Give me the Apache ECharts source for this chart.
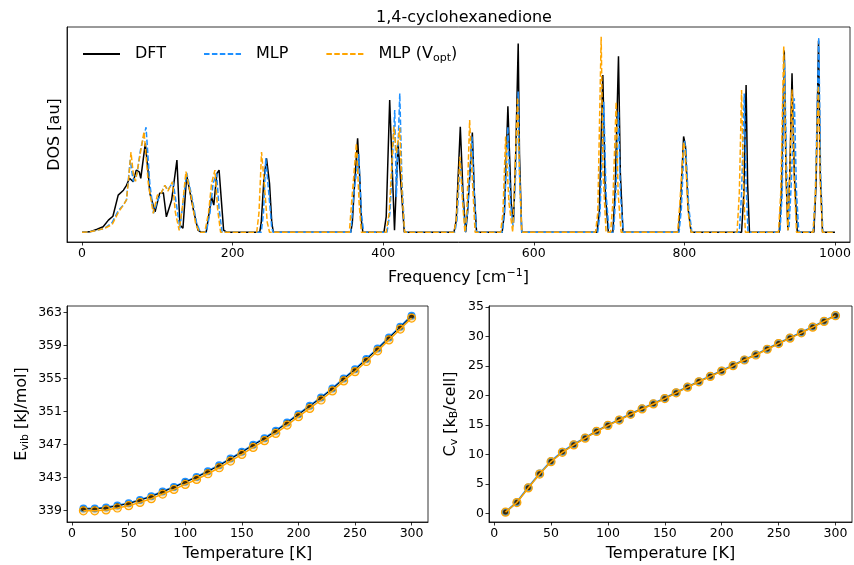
<!DOCTYPE html>
<html>
<head>
<meta charset="utf-8">
<script src="https://cdn.jsdelivr.net/npm/echarts@6/dist/echarts.min.js"></script>
<style>html,body{margin:0;padding:0;background:#fff}#c{width:854px;height:565px}</style>
</head>
<body>
<div id="c"></div>
<script>
// ---------- DOS data: [frequency (cm^-1), DOS (au)] ----------
const dosDFT = [[0,0],[10,0.002],[20,0.015],[28,0.028],[35,0.062],[41,0.082],[48,0.19],[55,0.215],[59,0.24],[63,0.276],[68,0.258],[72,0.318],[76,0.309],[78,0.276],[84,0.455],[88,0.30],[90,0.199],[97,0.105],[103,0.199],[108,0.202],[112,0.079],[119,0.165],[126,0.369],[130,0.037],[134,0.02],[139,0.291],[148,0.113],[154,0.011],[158,0],[165,0.003],[170,0.13],[172,0.18],[175,0.139],[179,0.30],[182,0.318],[188,0.011],[192,0],
[236,0],[238,0.05],[241.5,0.27],[245,0.378],[249,0.25],[252,0.05],[254,0],
[357,0],[359,0.05],[362,0.25],[366,0.48],[369,0.27],[371,0.06],[373,0],
[401,0],[404,0.08],[408.6,0.676],[415,0.01],[419.7,0.455],[421.5,0.46],[428,0],
[494,0],[497,0.06],[502.4,0.54],[506,0.2],[509.5,0],[512,0.1],[518.4,0.51],[521,0.2],[524,0],
[558,0],[561,0.1],[565.6,0.645],[570,0.15],[573,0.047],[576,0.4],[579.3,0.966],[581,0.4],[584,0],
[684,0],[687,0.1],[691.7,0.804],[695,0.2],[699,0],[705,0],[708,0.2],[712.5,0.9],[715,0.3],[718.5,0],
[792,0],[795,0.15],[799,0.49],[801.5,0.44],[805,0.12],[809,0],
[876,0],[879,0.2],[882,0.753],[884,0.25],[886.5,0],
[926,0],[929,0.2],[932.7,0.93],[935,0.3],[937.5,0.01],[940,0.3],[943,0.813],[946,0.3],[950,0],
[972,0],[975,0.25],[978.2,0.98],[980.5,0.3],[983.5,0],[1000,0]];

const dosMLP = [[0,0],[10,0.002],[20,0.01],[30,0.02],[40,0.05],[48,0.11],[55,0.14],[59,0.165],[64,0.37],[68,0.26],[73,0.3],[78,0.43],[85,0.537],[90,0.25],[95,0.097],[100,0.16],[104,0.19],[110,0.24],[114,0.216],[121,0.258],[125,0.15],[130,0.02],[134,0.15],[139,0.304],[146,0.18],[152,0.05],[157,0],
[165,0],[170,0.1],[174,0.25],[178.7,0.30],[182,0.12],[186,0],
[238,0],[241,0.1],[244,0.378],[248,0.2],[252,0.02],[254,0],
[357,0],[361,0.2],[367.5,0.40],[371,0.1],[374,0],
[405,0],[409,0.1],[415.3,0.625],[417.5,0.18],[422,0.71],[425,0.25],[428.5,0],
[495,0],[498,0.06],[502.4,0.37],[506,0.15],[509,0],[512,0.1],[518,0.49],[521,0.2],[524,0],
[558,0],[561,0.1],[565.6,0.54],[569,0.15],[572.5,0.03],[576,0.3],[579.3,0.72],[581,0.3],[584,0],
[685,0],[688,0.1],[693,0.667],[696,0.2],[700,0],[706,0],[709,0.2],[712.5,0.616],[715,0.2],[719,0],
[793,0],[796,0.12],[800,0.47],[802,0.42],[806,0.12],[810,0],
[873,0],[876,0.2],[879.5,0.71],[882,0.25],[884.5,0],
[927,0],[930,0.2],[933,0.88],[936,0.3],[939,0.02],[942,0.25],[946,0.685],[949,0.2],[952,0],
[971,0],[974,0.2],[978.5,0.997],[981,0.3],[984,0],[1000,0]];

const dosVopt = [[0,0],[10,0.002],[20,0.01],[30,0.02],[40,0.04],[48,0.1],[55,0.14],[59,0.165],[62,0.28],[65,0.41],[68,0.3],[71,0.26],[75,0.35],[82.3,0.514],[88,0.25],[94.6,0.097],[100,0.19],[105,0.2],[110,0.24],[114,0.21],[120,0.258],[124,0.1],[129,0.01],[133,0.12],[138,0.31],[145,0.18],[151,0.04],[156,0],
[163,0],[168,0.1],[172,0.25],[176.5,0.318],[180,0.12],[184,0],
[232,0],[235,0.1],[238.4,0.41],[242,0.25],[246,0.05],[249,0],
[355,0],[358,0.15],[364.4,0.455],[368,0.15],[371,0],
[404,0],[408,0.1],[414,0.54],[417.5,0.405],[422,0.533],[425,0.2],[428.5,0],
[494,0],[497,0.06],[502,0.386],[505.5,0.15],[508.5,0],[511,0.1],[514.8,0.574],[518,0.3],[522,0],
[556,0],[559,0.1],[562.6,0.49],[567,0.15],[572,0],[575,0.3],[578.5,0.69],[581,0.3],[584,0],
[682,0],[685,0.1],[689.5,1.0],[692,0.3],[696,0],[702,0],[705,0.15],[709.4,0.667],[712,0.2],[716,0],
[791,0],[794,0.15],[799,0.46],[801,0.42],[805,0.1],[809,0],
[870,0],[873,0.2],[876,0.727],[878.5,0.25],[881,0],
[925,0],[928,0.2],[932,0.952],[935,0.3],[937.5,0.01],[940,0.3],[943,0.73],[946,0.25],[949,0],
[971,0],[974,0.2],[978,0.75],[980.5,0.25],[983.5,0],[1000,0]];

// ---------- Thermodynamics ----------
const temperatures = [10,20,30,40,50,60,70,80,90,100,110,120,130,140,150,160,170,180,190,200,210,220,230,240,250,260,270,280,290,300];
const evibDFT  = [339.20,339.20,339.33,339.57,339.85,340.25,340.70,341.27,341.83,342.44,343.04,343.73,344.46,345.27,346.08,346.93,347.74,348.63,349.64,350.65,351.66,352.68,353.77,354.98,356.10,357.33,358.62,359.95,361.25,362.58];
const evibMLP  = [339.23,339.23,339.36,339.60,339.88,340.28,340.73,341.30,341.86,342.47,343.07,343.76,344.49,345.30,346.11,346.96,347.77,348.66,349.67,350.68,351.69,352.71,353.80,355.01,356.13,357.36,358.65,359.98,361.28,362.61];
const evibVopt = [338.95,338.95,339.06,339.30,339.58,339.98,340.43,340.99,341.55,342.16,342.76,343.45,344.18,344.99,345.80,346.65,347.46,348.35,349.36,350.37,351.38,352.40,353.50,354.71,355.84,357.07,358.36,359.69,361.00,362.33];
const cvDFT  = [0.23,1.88,4.38,6.72,8.82,10.41,11.67,12.80,13.94,14.97,15.88,16.85,17.76,18.61,19.52,20.49,21.46,22.37,23.28,24.19,25.10,26.07,26.92,27.89,28.85,29.77,30.68,31.64,32.61,33.58];
const cvMLP  = [0.25,1.92,4.42,6.76,8.86,10.45,11.71,12.84,13.98,15.00,15.91,16.88,17.79,18.64,19.55,20.52,21.49,22.40,23.31,24.22,25.13,26.10,26.95,27.92,28.88,29.80,30.71,31.67,32.64,33.61];
const cvVopt = [0.22,1.85,4.33,6.68,8.78,10.37,11.63,12.77,13.91,14.94,15.85,16.82,17.73,18.58,19.49,20.46,21.43,22.34,23.25,24.16,25.07,26.04,26.89,27.86,28.82,29.74,30.65,31.61,32.58,33.55];

const freqTicks = [0,200,400,600,800,1000];
const tempTicks = [0,50,100,150,200,250,300];
const evibTicks = [339,343,347,351,355,359,363];
const cvTicks = [0,5,10,15,20,25,30,35];

const FONT = 'DejaVu Sans';
const BLUE = '#1E90FF', ORANGE = '#FFA500';
const dash = [5.5, 2.4];

function pairs(xs, ys){ return xs.map((x,i)=>[x, ys[i]]); }

function valAxis(gridIndex, min, max, ticks, extra){
  return Object.assign({
    type:'value', gridIndex, min, max,
    axisLine:{show:true, onZero:false, lineStyle:{color:'#000', width:0.8}},
    axisTick:{show:true, length:3.5, lineStyle:{color:'#000', width:0.8}, customValues: ticks},
    axisLabel:{show:true, color:'#000', fontFamily:FONT, fontSize:12.5, margin:5, customValues: ticks,
      formatter: v => String(v)},
    splitLine:{show:false},
    nameTextStyle:{color:'#000', fontFamily:FONT, fontSize:16}
  }, extra||{});
}

const chart = echarts.init(document.getElementById('c'), null, {renderer:'canvas'});
const option = {
  animation:false,
  backgroundColor:'#fff',
  title:{text:'1,4-cyclohexanedione', left:459, top:5, textAlign:'center',
    textStyle:{fontFamily:FONT, fontSize:16, fontWeight:'normal', color:'#000'}},
  legend:{
    left:77, top:41, itemWidth:37, itemHeight:12, itemGap:37,
    data:['DFT','MLP','MLP (Vopt)'],
    itemStyle:{opacity:0},
    textStyle:{fontFamily:FONT, fontSize:16, color:'#000', padding:[0,0,0,10],
      rich:{sub:{fontFamily:FONT, fontSize:11, color:'#000', padding:[8,0,0,0]}}},
    formatter: n => n==='MLP (Vopt)' ? 'MLP (V{sub|opt})' : n
  },
  grid:[
    {left:67, right:4, top:27, height:215, show:true, borderColor:'#000', borderWidth:0.8},
    {left:67, right:426, top:306, height:216, show:true, borderColor:'#000', borderWidth:0.8},
    {left:489, right:2, top:306, height:216, show:true, borderColor:'#000', borderWidth:0.8}
  ],
  xAxis:[
    valAxis(0, -20, 1020, freqTicks, {name:'Frequency [cm{sup|−1}]', nameLocation:'middle', nameGap:26,
      nameTextStyle:{color:'#000', fontFamily:FONT, fontSize:16, rich:{sup:{fontFamily:FONT, fontSize:11, color:'#000', padding:[0,0,8,0]}}}}),
    valAxis(1, -4.5, 314.5, tempTicks, {name:'Temperature [K]', nameLocation:'middle', nameGap:24}),
    valAxis(2, -4.5, 314.5, tempTicks, {name:'Temperature [K]', nameLocation:'middle', nameGap:24})
  ],
  yAxis:[
    {type:'value', gridIndex:0, min:-0.05, max:1.05, name:'DOS [au]', nameLocation:'middle', nameGap:4,
      nameTextStyle:{color:'#000', fontFamily:FONT, fontSize:16},
      axisLine:{show:true, onZero:false, lineStyle:{color:'#000', width:0.8}}, axisTick:{show:false}, axisLabel:{show:false}, splitLine:{show:false}},
    valAxis(1, 337.6, 363.8, evibTicks, {name:'E{sub|vib} [kJ/mol]', nameLocation:'middle', nameGap:36,
      nameTextStyle:{color:'#000', fontFamily:FONT, fontSize:16, rich:{sub:{fontFamily:FONT, fontSize:11, color:'#000', padding:[8,0,0,0]}}}}),
    valAxis(2, -1.45, 35.2, cvTicks, {name:'C{sub|v} [k{sub|B}/cell]', nameLocation:'middle', nameGap:29,
      nameTextStyle:{color:'#000', fontFamily:FONT, fontSize:16, rich:{sub:{fontFamily:FONT, fontSize:11, color:'#000', padding:[8,0,0,0]}}}})
  ],
  series:[
    {name:'DFT', type:'line', xAxisIndex:0, yAxisIndex:0, data:dosDFT, symbol:'none', color:'#000',
      lineStyle:{color:'#000', width:1.5}, z:2},
    {name:'MLP', type:'line', xAxisIndex:0, yAxisIndex:0, data:dosMLP, symbol:'none', color:BLUE,
      lineStyle:{color:BLUE, width:1.5, type:dash}, z:3},
    {name:'MLP (Vopt)', type:'line', xAxisIndex:0, yAxisIndex:0, data:dosVopt, symbol:'none', color:ORANGE,
      lineStyle:{color:ORANGE, width:1.5, type:dash}, z:4},

    {type:'line', xAxisIndex:1, yAxisIndex:1, data:pairs(temperatures, evibMLP), symbol:'circle', symbolSize:8,
      lineStyle:{color:BLUE, width:2}, itemStyle:{color:BLUE}, z:2},
    {type:'line', xAxisIndex:1, yAxisIndex:1, data:pairs(temperatures, evibDFT), symbol:'circle', symbolSize:5,
      lineStyle:{color:'#000', width:1}, itemStyle:{color:'#000'}, z:3},
    {type:'line', xAxisIndex:1, yAxisIndex:1, data:pairs(temperatures, evibVopt), symbol:'circle', symbolSize:8,
      lineStyle:{color:ORANGE, width:1.5}, itemStyle:{color:'rgba(255,165,0,0.25)', borderColor:ORANGE, borderWidth:1.2}, z:4},

    {type:'line', xAxisIndex:2, yAxisIndex:2, data:pairs(temperatures, cvMLP), symbol:'circle', symbolSize:8,
      lineStyle:{color:BLUE, width:2}, itemStyle:{color:BLUE}, z:2},
    {type:'line', xAxisIndex:2, yAxisIndex:2, data:pairs(temperatures, cvDFT), symbol:'circle', symbolSize:5,
      lineStyle:{color:'#000', width:1}, itemStyle:{color:'#000'}, z:3},
    {type:'line', xAxisIndex:2, yAxisIndex:2, data:pairs(temperatures, cvVopt), symbol:'circle', symbolSize:8,
      lineStyle:{color:ORANGE, width:1.5}, itemStyle:{color:'rgba(255,165,0,0.25)', borderColor:ORANGE, borderWidth:1.2}, z:4}
  ]
};
chart.setOption(option);
</script>
</body>
</html>
